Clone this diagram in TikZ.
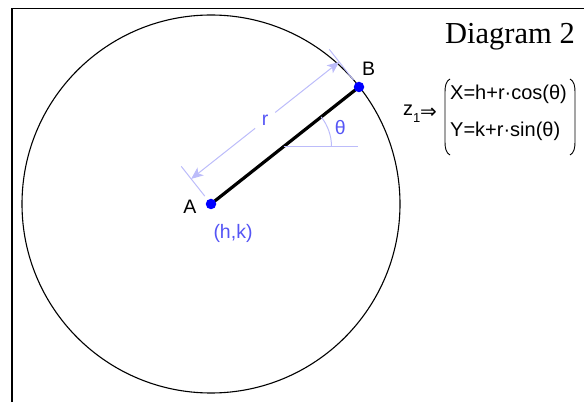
\documentclass[tikz,border=0pt]{standalone}
\usepackage{fontspec}
\setmainfont{Liberation Serif}
\newfontfamily\labelfont{Liberation Sans}
\newfontfamily\symfont{DejaVu Sans}
\usetikzlibrary{calc,arrows.meta,positioning}

\definecolor{dimblue}{RGB}{188,188,250}
\definecolor{txtblue}{RGB}{85,85,245}

\tikzset{
    lbl/.style={font=\labelfont\fontsize{19.5}{19.5}\selectfont, inner sep=0pt},
    bluelbl/.style={lbl, text=txtblue},
    rowlbl/.style={font=\labelfont\fontsize{20}{20}\selectfont, inner sep=0pt, anchor=base west},
    dimline/.style={draw=dimblue, line width=1pt},
    dimtip/.style={-{Stealth[length=12pt,width=10pt,inset=3pt,fill=dimblue]}},
    dot/.style={circle, fill=blue, inner sep=0pt, minimum size=10.5pt},
}

\begin{document}
\begin{tikzpicture}[x=1pt,y=1pt]
    \useasboundingbox (0,0) rectangle (584,402);
    % frame
    \draw[line width=1.4pt] (12,0) -- (12,393.3) -- (584,393.3);

    % circle and radius
    \coordinate (A) at (211,198);
    \coordinate (B) at (359,315);
    \draw[line width=1.1pt] (A) circle[radius=189];
    \draw[line width=3.2pt] (A) -- (B);
    \node[dot] (ptA) at (A) {};
    \node[dot] (ptB) at (B) {};
    \node[lbl] (labA) at ($(A)+(-21,-2.3)$) {A};
    \node[lbl] (labB) at ($(B)+(9.5,18.7)$) {B};
    \node[bluelbl] (hk) at ($(A)+(22,-29)$) {(h,k)};

    % dimension r
    \coordinate (dA) at ($(A)!32pt!90:(B)$);
    \coordinate (dB) at ($(B)!32pt!-90:(A)$);
    \draw[dimline] ($(A)!10pt!90:(B)$) -- ($(A)!48pt!90:(B)$);
    \draw[dimline] ($(B)!9pt!-90:(A)$) -- ($(B)!48pt!-90:(A)$);
    \draw[dimline, dimtip] ($(dA)!0.432!(dB)$) -- (dA);
    \draw[dimline, dimtip] ($(dA)!0.568!(dB)$) -- (dB);
    \node[bluelbl] (r) at ($(dA)!0.5!(dB)$) {r};

    % angle theta
    \coordinate (P) at ($(A)!0.49!(B)$);
    \draw[dimline] (P) -- ++(74,0);
    \draw[dimline] ($(P)+(48,0)$) arc[start angle=0, end angle=38.3, radius=48];
    \node[bluelbl] (theta) at ($(P)+(19:60)$) {θ};

    % title and equations
    \node[anchor=base west, inner sep=0pt, font=\fontsize{30.5}{30.5}\selectfont] (title) at (445,358.7) {Diagram 2};
    \node[rowlbl] (zed) at (403,286) {z\raisebox{-6.5pt}{\fontsize{13}{13}\selectfont 1}};
    \node[inner sep=0pt, font=\symfont\fontsize{20}{20}\selectfont] (impl) at (428.5,289) {⇒};
    \node[rowlbl] (rowX) at (450,302.5) {X=h+r·cos(θ)};
    \node[rowlbl] (rowY) at (450,265.5) {Y=k+r·sin(θ)};
    \draw[line width=0.9pt] (450,323) .. controls (446,321) and (445,316) .. (445,310) -- (445,260) .. controls (445,254) and (446,249) .. (450,247);
    \draw[line width=0.9pt] (570,323) .. controls (574,321) and (575,316) .. (575,310) -- (575,260) .. controls (575,254) and (574,249) .. (570,247);
\end{tikzpicture}
\end{document}
